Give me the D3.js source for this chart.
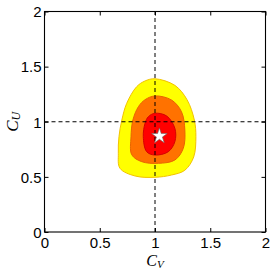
<!DOCTYPE html>
<html>
<head>
<meta charset="utf-8">
<script src="https://cdn.jsdelivr.net/npm/d3@7"></script>
<style>
  body { margin: 0; background: #fff; }
  svg { display: block; }
</style>
</head>
<body>
<div id="chart"></div>
<script>
// tick values, shared by both axes
let ticks = [0, 0.5, 1, 1.5, 2];

// contour outlines, [C_V, C_U] pairs
let yellowContour = [
    [1.0, 1.39], [1.18, 1.33], [1.29, 1.20], [1.356, 1.016], [1.37, 0.865],
    [1.35, 0.68], [1.27, 0.56], [1.15, 0.517], [1.0, 0.496], [0.82, 0.508],
    [0.683, 0.578], [0.668, 0.714], [0.674, 0.865], [0.70, 1.016],
    [0.744, 1.167], [0.834, 1.318], [0.91, 1.37]
];
let orangeContour = [
    [1.0, 1.234], [1.15, 1.197], [1.24, 1.09], [1.27, 0.925], [1.256, 0.759],
    [1.18, 0.653], [1.03, 0.623], [0.88, 0.638], [0.79, 0.70], [0.783, 0.865],
    [0.80, 1.016], [0.85, 1.137], [0.91, 1.20]
];
let redContour = [
    [1.0, 1.077], [1.106, 1.052], [1.18, 0.94], [1.18, 0.82], [1.12, 0.728],
    [1.0, 0.698], [0.925, 0.728], [0.894, 0.865], [0.91, 0.986], [0.94, 1.046]
];

// best fit point and the SM reference lines
let bestFit = [1.04, 0.87];
let refValue = 1;

let width = 273;
let height = 270;
let margin = { left: 44.5, top: 11.5, right: 7.5, bottom: 38 };

let svg = d3.select("#chart")
    .append("svg")
    .attr("width", width)
    .attr("height", height);

let x = d3.scaleLinear().domain([0, 2]).range([margin.left, width - margin.right]);
let y = d3.scaleLinear().domain([0, 2]).range([height - margin.bottom, margin.top]);

let line = d3.line()
    .x(function(d) { return x(d[0]); })
    .y(function(d) { return y(d[1]); })
    .curve(d3.curveCatmullRomClosed.alpha(0.5));

let contours = [
    { pts: yellowContour, fill: "#ffff00", stroke: "#f2c200" },
    { pts: orangeContour, fill: "#ff7200", stroke: "#e86400" },
    { pts: redContour, fill: "#ff0000", stroke: "#d40000" }
];

svg.append("g")
    .selectAll("path")
    .data(contours)
    .enter()
    .append("path")
    .attr("d", function(d) { return line(d.pts); })
    .attr("fill", function(d) { return d.fill; })
    .attr("stroke", function(d) { return d.stroke; })
    .attr("stroke-width", 1);

// dashed lines at 1
svg.append("line")
    .attr("x1", x(refValue)).attr("x2", x(refValue))
    .attr("y1", y(0)).attr("y2", y(2))
    .attr("stroke", "#000").attr("stroke-width", 1)
    .attr("stroke-dasharray", "4,3");
svg.append("line")
    .attr("x1", x(0)).attr("x2", x(2))
    .attr("y1", y(refValue)).attr("y2", y(refValue))
    .attr("stroke", "#000").attr("stroke-width", 1)
    .attr("stroke-dasharray", "4,3");

// star marker
svg.append("path")
    .attr("d", d3.symbol().type(d3.symbolStar).size(75)())
    .attr("transform", "translate(" + x(bestFit[0]) + "," + y(bestFit[1]) + ")")
    .attr("fill", "#fff")
    .attr("stroke", "#666")
    .attr("stroke-width", 0.6);

// axes, ticks inward on all four sides
let tickFont = "Liberation Sans, Arial, sans-serif";

let bottomAxis = svg.append("g")
    .attr("transform", "translate(0," + y(0) + ")")
    .call(d3.axisBottom(x).tickValues(ticks).tickSizeInner(-4).tickSizeOuter(0).tickPadding(6)
        .tickFormat(d3.format("")));
let leftAxis = svg.append("g")
    .attr("transform", "translate(" + x(0) + ",0)")
    .call(d3.axisLeft(y).tickValues(ticks).tickSizeInner(-4).tickSizeOuter(0).tickPadding(7)
        .tickFormat(d3.format("")));
svg.append("g")
    .attr("transform", "translate(0," + y(2) + ")")
    .call(d3.axisTop(x).tickValues(ticks).tickSizeInner(-4).tickSizeOuter(0).tickFormat(""));
svg.append("g")
    .attr("transform", "translate(" + x(2) + ",0)")
    .call(d3.axisRight(y).tickValues(ticks).tickSizeInner(-4).tickSizeOuter(0).tickFormat(""));

svg.selectAll(".domain").remove();
svg.selectAll(".tick line").attr("stroke", "#000");

bottomAxis.selectAll("text")
    .attr("font-family", tickFont).attr("font-size", 15).attr("fill", "#000")
    .attr("dy", "0.68em");
leftAxis.selectAll("text")
    .attr("font-family", tickFont).attr("font-size", 15).attr("fill", "#000")
    .attr("x", -3).attr("dy", "0.35em");

// frame
svg.append("rect")
    .attr("x", x(0)).attr("y", y(2))
    .attr("width", x(2) - x(0)).attr("height", y(0) - y(2))
    .attr("fill", "none").attr("stroke", "#000").attr("stroke-width", 1.1);

// axis labels
let labelFont = "Liberation Serif, Times New Roman, serif";

let xl = svg.append("text")
    .attr("x", x(1)).attr("y", 266)
    .attr("text-anchor", "middle")
    .attr("font-family", labelFont).attr("font-style", "italic").attr("font-size", 16);
xl.append("tspan").text("C");
xl.append("tspan").attr("font-size", 11).attr("dy", 1.5).text("V");

let yl = svg.append("text")
    .attr("transform", "translate(18," + y(1) + ") rotate(-90)")
    .attr("text-anchor", "middle")
    .attr("font-family", labelFont).attr("font-style", "italic").attr("font-size", 17);
yl.append("tspan").text("C");
yl.append("tspan").attr("font-size", 12).attr("dy", 2).text("U");
</script>
</body>
</html>
